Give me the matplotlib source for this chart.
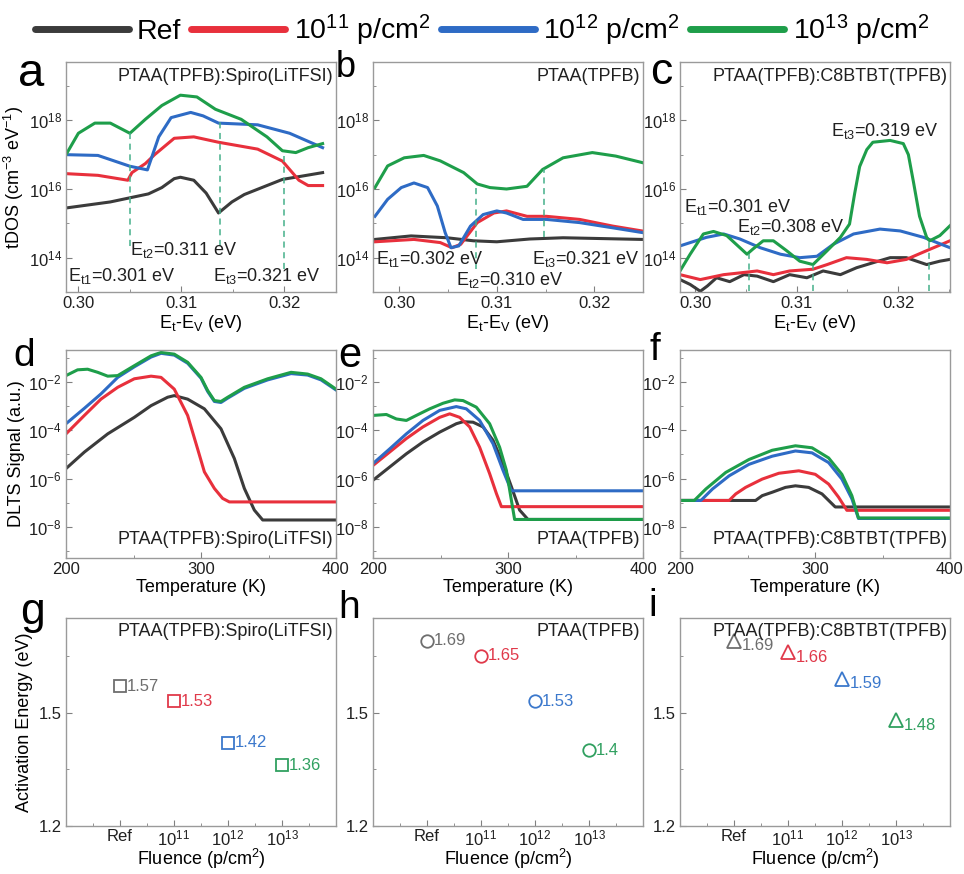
import matplotlib
matplotlib.use('Agg')
import matplotlib.pyplot as plt
from matplotlib.lines import Line2D
from matplotlib.ticker import FixedLocator, NullFormatter

plt.rcParams['font.family'] = ['Liberation Sans', 'DejaVu Sans']
plt.rcParams['mathtext.default'] = 'regular'

# ---------------- data ----------------
SERIES = ['Ref', '10$^{11}$ p/cm$^2$', '10$^{12}$ p/cm$^2$', '10$^{13}$ p/cm$^2$']

# panel a : tDOS, PTAA(TPFB):Spiro(LiTFSI)
A_REF_X = [0.2988, 0.3031, 0.3068, 0.3081, 0.3093, 0.3099, 0.3112, 0.3124, 0.3136, 0.3149, 0.3161, 0.3198, 0.3237]
A_REF_Y = [2.8e15, 4.2e15, 7.2e15, 1.1e16, 2.0e16, 2.2e16, 1.8e16, 7.6e15, 2.0e15, 4.2e15, 6.9e15, 1.9e16, 3.0e16]
A_11_X = [0.2988, 0.3019, 0.3048, 0.3052, 0.3065, 0.3074, 0.3093, 0.3112, 0.3136, 0.3174, 0.3198, 0.3214, 0.3223, 0.3237]
A_11_Y = [2.8e16, 2.5e16, 1.8e16, 3.0e16, 5.5e16, 1.0e17, 3.0e17, 3.3e17, 2.3e17, 1.45e17, 6.5e16, 1.8e16, 1.26e16, 1.26e16]
A_12_X = [0.2988, 0.3019, 0.3050, 0.3067, 0.3078, 0.3090, 0.3109, 0.3121, 0.3136, 0.3174, 0.3205, 0.3237]
A_12_Y = [1.0e17, 9.5e16, 4.6e16, 3.6e16, 3.3e17, 1.2e18, 1.7e18, 1.35e18, 8.3e17, 7.4e17, 4.2e17, 1.6e17]
A_13_X = [0.2988, 0.3000, 0.3016, 0.3031, 0.3050, 0.3065, 0.3081, 0.3099, 0.3115, 0.3133, 0.3158, 0.3183, 0.3198, 0.3211, 0.3223, 0.3237]
A_13_Y = [1.0e17, 4.2e17, 8.3e17, 8.3e17, 4.2e17, 1.07e18, 2.7e18, 5.4e18, 4.8e18, 2.1e18, 1.07e18, 3.3e17, 1.3e17, 1.15e17, 1.6e17, 2.1e17]

# panel b : tDOS, PTAA(TPFB)
B_REF_X = [0.2975, 0.3012, 0.3049, 0.3076, 0.3100, 0.3134, 0.3168, 0.3249]
B_REF_Y = [3.4e14, 4.3e14, 3.8e14, 3.1e14, 2.9e14, 3.5e14, 3.8e14, 3.4e14]
B_11_X = [0.2975, 0.3015, 0.3042, 0.3054, 0.3063, 0.3080, 0.3097, 0.3110, 0.3131, 0.3151, 0.3185, 0.3219, 0.3249]
B_11_Y = [2.9e14, 3.4e14, 2.75e14, 1.95e14, 2.45e14, 1.05e15, 2.0e15, 2.3e15, 1.6e15, 1.6e15, 1.3e15, 8.3e14, 6.0e14]
B_12_X = [0.2975, 0.2988, 0.3002, 0.3015, 0.3029, 0.3039, 0.3047, 0.3053, 0.3061, 0.3073, 0.3086, 0.3100, 0.3110, 0.3127, 0.3151, 0.3185, 0.3219, 0.3249]
B_12_Y = [1.6e15, 5.0e15, 1.1e16, 1.5e16, 1.1e16, 3.2e15, 5.4e14, 1.95e14, 2.2e14, 8.3e14, 1.8e15, 2.3e15, 2.0e15, 1.3e15, 1.3e15, 1.05e15, 7.4e14, 5.4e14]
B_13_X = [0.2975, 0.2988, 0.3005, 0.3025, 0.3042, 0.3066, 0.3080, 0.3093, 0.3110, 0.3131, 0.3147, 0.3168, 0.3198, 0.3222, 0.3249]
B_13_Y = [1.1e16, 4.7e16, 8.1e16, 9.5e16, 6.6e16, 3.0e16, 1.4e16, 1.1e16, 1.0e16, 1.2e16, 3.7e16, 8.1e16, 1.15e17, 9.1e16, 5.9e16]

# panel c : tDOS, PTAA(TPFB):C8BTBT(TPFB)
C_REF_X = [0.2985, 0.2995, 0.3005, 0.3012, 0.3021, 0.3034, 0.3048, 0.3061, 0.3077, 0.3093, 0.3110, 0.3126, 0.3143, 0.3159, 0.3175, 0.3192, 0.3208, 0.3228, 0.3241, 0.3251]
C_REF_Y = [2.3e13, 1.66e13, 1.05e13, 1.5e13, 2.6e13, 2.0e13, 3.2e13, 2.9e13, 2.0e13, 3.2e13, 2.6e13, 4.1e13, 3.2e13, 5.1e13, 7.1e13, 1.0e14, 1.0e14, 6.3e13, 7.9e13, 8.9e13]
C_11_X = [0.2985, 0.3005, 0.3028, 0.3044, 0.3061, 0.3077, 0.3093, 0.3116, 0.3130, 0.3149, 0.3169, 0.3189, 0.3208, 0.3228, 0.3251]
C_11_Y = [3.2e13, 2.3e13, 3.2e13, 3.6e13, 4.1e13, 3.2e13, 4.1e13, 4.6e13, 6.3e13, 1.0e14, 8.9e13, 7.1e13, 8.9e13, 1.6e14, 3.1e14]
C_12_X = [0.2985, 0.3011, 0.3028, 0.3044, 0.3064, 0.3084, 0.3103, 0.3120, 0.3136, 0.3156, 0.3182, 0.3202, 0.3225, 0.3251]
C_12_Y = [2.2e14, 3.9e14, 4.9e14, 3.5e14, 1.95e14, 1.26e14, 1.0e14, 1.1e14, 2.45e14, 4.9e14, 6.8e14, 6.0e14, 3.9e14, 1.95e14]
C_13_X = [0.2985, 0.2995, 0.3008, 0.3018, 0.3031, 0.3044, 0.3051, 0.3057, 0.3067, 0.3077, 0.3090, 0.3103, 0.3116, 0.3130,
          0.3143, 0.3152, 0.3157, 0.3162, 0.3169, 0.3175, 0.3192, 0.3205, 0.3210, 0.3215, 0.3221, 0.3228, 0.3231, 0.3241, 0.3251]
C_13_Y = [4.1e13, 1.26e14, 4.9e14, 5.8e14, 4.4e14, 1.95e14, 1.26e14, 1.8e14, 3.1e14, 3.1e14, 1.6e14, 7.9e13, 6.3e13, 1.6e14,
          3.9e14, 9.5e14, 7.2e15, 4.5e16, 1.4e17, 2.3e17, 2.6e17, 2.1e17, 1.0e17, 1.6e16, 1.6e15, 3.9e14, 3.1e14, 4.4e14, 8.5e14]

# panel d : DLTS, PTAA(TPFB):Spiro(LiTFSI)
D_REF_T = [200, 213.6, 230.9, 250.6, 263, 275.3, 280.2, 290.1, 302.5, 314.8, 324.7, 332.1, 339.5, 345.7, 400]
D_REF_S = [2.6e-6, 1.26e-5, 7.2e-5, 3.5e-4, 1.07e-3, 2.4e-3, 2.8e-3, 2.0e-3, 7.9e-4, 1.17e-4, 6.8e-6, 3.9e-7, 4.9e-8, 1.9e-8, 1.9e-8]
D_11_T = [200, 213.6, 225.9, 238.3, 250.6, 263, 270.4, 280.2, 290.1, 297.5, 302.5, 309.9, 316, 321, 400]
D_11_S = [7.2e-5, 4.2e-4, 2.0e-3, 6.2e-3, 1.4e-2, 1.8e-2, 1.6e-2, 5.2e-3, 4.2e-4, 1.7e-5, 1.9e-6, 3.9e-7, 1.5e-7, 1.07e-7, 1.07e-7]
D_12_T = [200, 213.6, 225.9, 238.3, 250.6, 263, 270.4, 280.2, 290.1, 300, 304.9, 309.9, 314.8, 319.8, 332.1, 349.4, 366.7, 379, 388.9, 400]
D_12_S = [1.9e-4, 8.3e-4, 3.3e-3, 1.6e-2, 4.4e-2, 1.12e-1, 1.6e-1, 1.35e-1, 6.2e-2, 1.48e-2, 4.2e-3, 1.6e-3, 1.45e-3, 2.2e-3, 5.6e-3, 1.26e-2, 2.3e-2, 2.0e-2, 1.26e-2, 4.8e-3]
D_13_T = [200, 208.6, 216, 223.5, 230.9, 238.3, 250.6, 263, 270.4, 280.2, 290.1, 300, 304.9, 309.9, 314.8, 319.8, 332.1, 349.4, 366.7, 379, 388.9, 400]
D_13_S = [1.9e-2, 3.3e-2, 3.5e-2, 2.6e-2, 1.8e-2, 1.9e-2, 4.9e-2, 1.26e-1, 1.74e-1, 1.48e-1, 6.8e-2, 1.6e-2, 4.6e-3, 1.74e-3, 1.6e-3, 2.4e-3, 6.2e-3, 1.4e-2, 2.6e-2, 2.2e-2, 1.4e-2, 5.2e-3]

# panel e : DLTS, PTAA(TPFB)
E_REF_T = [200, 212.3, 224.7, 237, 249.4, 261.7, 266.7, 274.1, 281.5, 288.9, 296.3, 302.5, 308.6, 314.8, 400]
E_REF_S = [8.5e-7, 3.0e-6, 1.07e-5, 3.3e-5, 8.5e-5, 1.9e-4, 2.3e-4, 2.2e-4, 1.4e-4, 3.9e-5, 4.2e-6, 4.6e-7, 4.9e-8, 2.0e-8, 2.0e-8]
E_11_T = [200, 212.3, 224.7, 237, 249.4, 256.8, 264.2, 271.6, 279, 286.4, 291.4, 295.1, 400]
E_11_S = [3.5e-6, 1.26e-5, 4.6e-5, 1.4e-4, 3.5e-4, 4.9e-4, 3.5e-4, 1.4e-4, 2.0e-5, 1.6e-6, 2.4e-7, 6.8e-8, 6.8e-8]
E_12_T = [200, 212.3, 224.7, 237, 249.4, 261.7, 269.1, 279, 288.9, 296.3, 302.5, 400]
E_12_S = [4.2e-6, 1.7e-5, 7.2e-5, 2.6e-4, 6.8e-4, 9.8e-4, 7.9e-4, 2.6e-4, 2.8e-5, 2.2e-6, 3.1e-7, 3.1e-7]
E_13_T = [200, 209.9, 217.3, 224.7, 232.1, 242, 251.9, 260.5, 266.7, 276.5, 286.4, 293.8, 298.8, 302.5, 304.9, 400]
E_13_S = [4.2e-4, 4.6e-4, 3.0e-4, 2.6e-4, 4.2e-4, 7.9e-4, 1.35e-3, 1.86e-3, 1.74e-3, 9.3e-4, 1.9e-4, 2.0e-5, 2.2e-6, 1.26e-7, 2.0e-8, 2.0e-8]

# panel f : DLTS, PTAA(TPFB):C8BTBT(TPFB)
F_REF_T = [200, 256, 260.9, 268.3, 278.1, 285.5, 295.3, 305.2, 315, 400]
F_REF_S = [1.23e-7, 1.23e-7, 1.95e-7, 2.7e-7, 4.3e-7, 5.0e-7, 4.3e-7, 2.3e-7, 6.6e-8, 6.6e-8]
F_11_T = [200, 236.4, 241.3, 248.6, 260.9, 273.2, 288, 300.2, 310.1, 317.4, 323.6, 400]
F_11_S = [1.23e-7, 1.23e-7, 2.3e-7, 4.3e-7, 9.5e-7, 1.66e-6, 2.1e-6, 1.5e-6, 5.9e-7, 1.7e-7, 4.8e-8, 4.8e-8]
F_12_T = [200, 215.5, 224.1, 236.4, 251.1, 268.3, 285.5, 297.8, 310.1, 319.9, 327.3, 332.2, 400]
F_12_S = [1.23e-7, 1.23e-7, 3.7e-7, 1.3e-6, 3.9e-6, 8.5e-6, 1.4e-5, 1.17e-5, 4.6e-6, 9.5e-7, 1.45e-7, 2.2e-8, 2.2e-8]
F_13_T = [200, 210.6, 219.2, 233.9, 251.1, 268.3, 285.5, 297.8, 310.1, 319.9, 327.3, 332.2, 400]
F_13_S = [1.23e-7, 1.23e-7, 3.7e-7, 1.8e-6, 6.2e-6, 1.5e-5, 2.3e-5, 1.9e-5, 7.2e-6, 1.5e-6, 1.95e-7, 2.3e-8, 2.3e-8]

# panels g-i : activation energy vs fluence
FLUENCE = ['Ref', '10$^{11}$', '10$^{12}$', '10$^{13}$']
EA_SPIRO = [1.57, 1.53, 1.42, 1.36]
EA_PTAA = [1.69, 1.65, 1.53, 1.40]
EA_C8 = [1.69, 1.66, 1.59, 1.48]
EA_TEXT_SPIRO = ['1.57', '1.53', '1.42', '1.36']
EA_TEXT_PTAA = ['1.69', '1.65', '1.53', '1.4']
EA_TEXT_C8 = ['1.69', '1.66', '1.59', '1.48']

# trap levels marked with dashed lines: (x, upper y, lower y)
A_TRAPS = [(0.3050, 4.2e17, 2.2e14), (0.3137, 1.1e18, 2.2e14), (0.3200, 9e16, 4.6e13)]
B_TRAPS = [(0.3079, 1.4e16, 4.6e13), (0.3148, 3.7e16, 4e14)]
C_TRAPS = [(0.3053, 1.26e14, 1.1e13), (0.3116, 6.3e13, 1.1e13), (0.3230, 2.8e14, 1.1e13)]

COLORS = ['#3b3b3b', '#e8303c', '#2e6bc5', '#1e9e4a']
MCOLORS = ['#6e6e6e', '#e0394a', '#3b78cc', '#30a060']
TRAP_C = '#45b08a'
SPINE_C = '#9a9a9a'

fig = plt.figure(figsize=(9.64, 8.74), dpi=100)


def px_axes(left, top, width, height):
    return fig.add_axes([left / 964, 1 - (top + height) / 874, width / 964, height / 874])


def style(ax):
    for s in ax.spines.values():
        s.set_color(SPINE_C)
        s.set_linewidth(1.0)
    ax.tick_params(which='both', direction='in', color='#808080', labelsize=12, labelcolor='#202020', pad=3)
    ax.tick_params(which='major', length=4)
    ax.tick_params(which='minor', length=2.5)


col_left = [66, 373, 680]
col_w = 270

# ---------- top row: tDOS ----------
top_sets = [
    ([(A_REF_X, A_REF_Y), (A_11_X, A_11_Y), (A_12_X, A_12_Y), (A_13_X, A_13_Y)], (0.2988, 0.3237), A_TRAPS, 'PTAA(TPFB):Spiro(LiTFSI)'),
    ([(B_REF_X, B_REF_Y), (B_11_X, B_11_Y), (B_12_X, B_12_Y), (B_13_X, B_13_Y)], (0.2973, 0.3249), B_TRAPS, 'PTAA(TPFB)'),
    ([(C_REF_X, C_REF_Y), (C_11_X, C_11_Y), (C_12_X, C_12_Y), (C_13_X, C_13_Y)], (0.2985, 0.3251), C_TRAPS, 'PTAA(TPFB):C8BTBT(TPFB)'),
]
top_axes = []
for i, (curves, xl, traps, name) in enumerate(top_sets):
    ax = px_axes(col_left[i], 62, col_w, 230)
    style(ax)
    ax.set_yscale('log')
    for (xs, ys), c in zip(curves, COLORS):
        ax.plot(xs, ys, color=c, lw=2.2, solid_joinstyle='round')
    for x, y1, y0 in traps:
        ax.plot([x, x], [y0, y1], color=TRAP_C, lw=1.1, ls=(0, (4, 3)))
    ax.set_xlim(*xl)
    ax.set_ylim(1e13, 5e19)
    ax.yaxis.set_major_locator(FixedLocator([1e14, 1e16, 1e18]))
    ax.yaxis.set_minor_locator(FixedLocator([1e13, 1e15, 1e17, 1e19]))
    ax.yaxis.set_minor_formatter(NullFormatter())
    ax.set_xticks([0.30, 0.31, 0.32])
    ax.set_xticklabels(['0.30', '0.31', '0.32'])
    ax.set_xticks([0.305, 0.315, 0.325], minor=True)
    ax.set_xlabel('E$_t$-E$_V$ (eV)', fontsize=13, labelpad=1)
    ax.text(0.99, 0.975, name, transform=ax.transAxes, ha='right', va='top', fontsize=13, color='#202020')
    top_axes.append(ax)

top_axes[0].set_ylabel('tDOS (cm$^{-3}$ eV$^{-1}$)', fontsize=13, labelpad=2)

ann = dict(fontsize=13, color='#202020', va='center')
top_axes[0].text(0.3050, 1.7e14, 'E$_{t2}$=0.311 eV', ha='left', **ann)
top_axes[0].text(0.2990, 3e13, 'E$_{t1}$=0.301 eV', ha='left', **ann)
top_axes[0].text(0.3235, 3e13, 'E$_{t3}$=0.321 eV', ha='right', **ann)
top_axes[1].text(0.2976, 9e13, 'E$_{t1}$=0.302 eV', ha='left', **ann)
top_axes[1].text(0.3058, 2.3e13, 'E$_{t2}$=0.310 eV', ha='left', **ann)
top_axes[1].text(0.3247, 9e13, 'E$_{t3}$=0.321 eV', ha='right', **ann)
top_axes[2].text(0.2989, 3e15, 'E$_{t1}$=0.301 eV', ha='left', **ann)
top_axes[2].text(0.3041, 7.6e14, 'E$_{t2}$=0.308 eV', ha='left', **ann)
top_axes[2].text(0.3134, 4.8e17, 'E$_{t3}$=0.319 eV', ha='left', **ann)

# ---------- middle row: DLTS ----------
mid_sets = [
    ([(D_REF_T, D_REF_S), (D_11_T, D_11_S), (D_12_T, D_12_S), (D_13_T, D_13_S)], 'PTAA(TPFB):Spiro(LiTFSI)'),
    ([(E_REF_T, E_REF_S), (E_11_T, E_11_S), (E_12_T, E_12_S), (E_13_T, E_13_S)], 'PTAA(TPFB)'),
    ([(F_REF_T, F_REF_S), (F_11_T, F_11_S), (F_12_T, F_12_S), (F_13_T, F_13_S)], 'PTAA(TPFB):C8BTBT(TPFB)'),
]
mid_axes = []
for i, (curves, name) in enumerate(mid_sets):
    ax = px_axes(col_left[i], 350, col_w, 208)
    style(ax)
    ax.set_yscale('log')
    for (xs, ys), c in zip(curves, COLORS):
        ax.plot(xs, ys, color=c, lw=2.2, solid_joinstyle='round')
    ax.set_xlim(200, 400)
    ax.set_ylim(5e-10, 0.22)
    ax.yaxis.set_major_locator(FixedLocator([1e-8, 1e-6, 1e-4, 1e-2]))
    ax.yaxis.set_minor_locator(FixedLocator([1e-9, 1e-7, 1e-5, 1e-3, 1e-1]))
    ax.yaxis.set_minor_formatter(NullFormatter())
    ax.set_xticks([200, 300, 400])
    ax.set_xticks([250, 350], minor=True)
    ax.set_xlabel('Temperature (K)', fontsize=13, labelpad=1)
    ax.text(0.99, 0.05, name, transform=ax.transAxes, ha='right', va='bottom', fontsize=13, color='#202020')
    mid_axes.append(ax)

mid_axes[0].set_ylabel('DLTS Signal (a.u.)', fontsize=13, labelpad=2)

# ---------- bottom row: activation energy ----------
bot_sets = [
    (EA_SPIRO, EA_TEXT_SPIRO, 's', 8, 0.12, 0.0, 'PTAA(TPFB):Spiro(LiTFSI)'),
    (EA_PTAA, EA_TEXT_PTAA, 'o', 9, 0.12, 0.0, 'PTAA(TPFB)'),
    (EA_C8, EA_TEXT_C8, '^', 10, 0.15, -0.014, 'PTAA(TPFB):C8BTBT(TPFB)'),
]
pos = [1, 2, 3, 4]
bot_axes = []
for i, (vals, texts, mk, ms, dx, dy, name) in enumerate(bot_sets):
    ax = px_axes(col_left[i], 618, col_w, 208)
    style(ax)
    for p, v, t, c in zip(pos, vals, texts, MCOLORS):
        ax.plot([p], [v], marker=mk, ms=ms, mfc='none', mec=c, mew=1.3, ls='none')
        ax.text(p + dx, v + dy, t, color=c, fontsize=12, ha='left', va='center')
    ax.set_xlim(0, 5)
    ax.set_ylim(1.2, 1.75)
    ax.set_yticks([1.2, 1.5])
    ax.set_yticks([1.35, 1.65], minor=True)
    ax.set_xticks(pos)
    ax.set_xticklabels(FLUENCE)
    ax.set_xticks([0.5, 1.5, 2.5, 3.5, 4.5], minor=True)
    ax.tick_params(axis='x', which='major', pad=2)
    ax.set_xlabel('Fluence (p/cm$^2$)', fontsize=13, labelpad=-1)
    ax.text(0.99, 0.975, name, transform=ax.transAxes, ha='right', va='top', fontsize=13, color='#202020')
    bot_axes.append(ax)

bot_axes[0].set_ylabel('Activation Energy (eV)', fontsize=13, labelpad=4)

# ---------- panel letters ----------
letters = ['a', 'b', 'c', 'd', 'e', 'f', 'g', 'h', 'i']
letter_xy = [(18, 52), (336, 50), (650, 52), (13, 338), (338, 336), (650, 332), (20, 592), (338, 590), (648, 588)]
letter_size = [34, 26, 32, 28, 30, 28, 32, 28, 28]
for s, (x, y), fs in zip(letters, letter_xy, letter_size):
    fig.text(x / 964, 1 - y / 874, s, fontsize=fs, ha='left', va='top', color='black')

# ---------- legend ----------
handles = [Line2D([0], [0], color=c, lw=5, solid_capstyle='round') for c in COLORS]
fig.legend(handles, SERIES, loc='center', bbox_to_anchor=(0.5, 1 - 30 / 874), ncol=4, frameon=False,
           fontsize=20.5, handlelength=3.3, handletextpad=0.3, columnspacing=0.35)

fig.savefig('out.png', dpi=100, facecolor='white')
